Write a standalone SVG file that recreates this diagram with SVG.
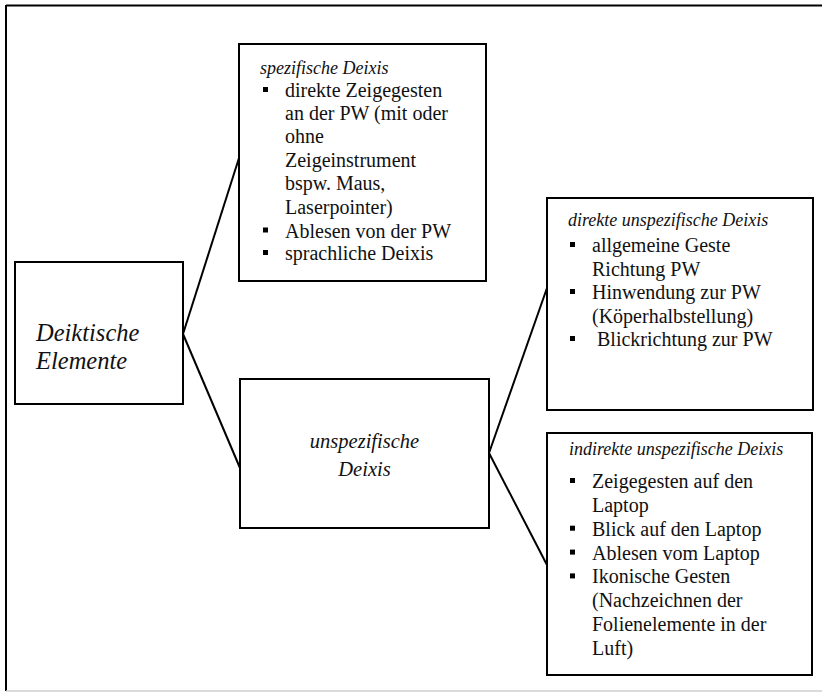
<svg xmlns="http://www.w3.org/2000/svg" width="822" height="692" viewBox="0 0 822 692">
<style>
.box{fill:#fff;stroke:#000;stroke-width:2}
.con{stroke:#000;stroke-width:2;fill:none}
.frame{stroke:#000;stroke-width:2;fill:none}
.t{font-family:"Liberation Serif","Times New Roman",serif;font-size:20px;fill:#111}
.h{font-family:"Liberation Serif","Times New Roman",serif;font-size:18px;font-style:italic;fill:#111}
.big{font-family:"Liberation Serif","Times New Roman",serif;font-style:italic;fill:#111}
.b{fill:#000}
</style>
<rect width="822" height="692" fill="#fff"/>
<g id="frame">
<line class="frame" x1="6" y1="5.5" x2="822" y2="5.5"/>
<line class="frame" x1="6" y1="5" x2="6" y2="691"/>
<line x1="6" y1="691" x2="822" y2="691" stroke="#cfcfcf" stroke-width="1.5"/>
</g>
<g id="connectors">
<line class="con" x1="183" y1="334" x2="239" y2="158"/>
<line class="con" x1="183" y1="334" x2="240" y2="468"/>
<line class="con" x1="489" y1="453" x2="547" y2="288"/>
<line class="con" x1="489" y1="453" x2="547" y2="565"/>
</g>
<g id="deiktische">
<rect class="box" x="15" y="262" width="168" height="142"/>
<text class="big" font-size="24.5" x="36" y="341">Deiktische</text>
<text class="big" font-size="24.5" x="36" y="368.5">Elemente</text>
</g>
<g id="spezifisch">
<rect class="box" x="239" y="44" width="247" height="237"/>
<text class="h" x="260" y="73.5">spezifische Deixis</text>
<rect class="b" x="263" y="87" width="5" height="5"/>
<text class="t" x="285" y="97">direkte Zeigegesten</text>
<text class="t" x="285" y="120.3">an der PW (mit oder</text>
<text class="t" x="285" y="143.3">ohne</text>
<text class="t" x="285" y="166.8">Zeigeinstrument</text>
<text class="t" x="285" y="190.2">bspw. Maus,</text>
<text class="t" x="285" y="213.8">Laserpointer)</text>
<rect class="b" x="263" y="227.5" width="5" height="5"/>
<text class="t" x="285" y="237.5">Ablesen von der PW</text>
<rect class="b" x="263" y="250" width="5" height="5"/>
<text class="t" x="285" y="260">sprachliche Deixis</text>
</g>
<g id="unspezifisch">
<rect class="box" x="240" y="379" width="249" height="149"/>
<text class="big" font-size="20.5" x="364.5" y="448" text-anchor="middle">unspezifische</text>
<text class="big" font-size="20.5" x="364.5" y="476" text-anchor="middle">Deixis</text>
</g>
<g id="direkt">
<rect class="box" x="547" y="198" width="266" height="212"/>
<text class="h" x="568" y="226">direkte unspezifische Deixis</text>
<rect class="b" x="570" y="242" width="5" height="5"/>
<text class="t" x="592" y="252">allgemeine Geste</text>
<text class="t" x="592" y="275.5">Richtung PW</text>
<rect class="b" x="570" y="289" width="5" height="5"/>
<text class="t" x="592" y="299">Hinwendung zur PW</text>
<text class="t" x="592" y="322.5">(Köperhalbstellung)</text>
<rect class="b" x="570" y="336" width="5" height="5"/>
<text class="t" x="597" y="346">Blickrichtung zur PW</text>
</g>
<g id="indirekt">
<rect class="box" x="547" y="433" width="265" height="242"/>
<text class="h" x="569" y="455">indirekte unspezifische Deixis</text>
<rect class="b" x="570" y="478" width="5" height="5"/>
<text class="t" x="592" y="488">Zeigegesten auf den</text>
<text class="t" x="592" y="511.9">Laptop</text>
<rect class="b" x="570" y="525.7" width="5" height="5"/>
<text class="t" x="592" y="535.7">Blick auf den Laptop</text>
<rect class="b" x="570" y="549.6" width="5" height="5"/>
<text class="t" x="592" y="559.6">Ablesen vom Laptop</text>
<rect class="b" x="570" y="573.4" width="5" height="5"/>
<text class="t" x="592" y="583.4">Ikonische Gesten</text>
<text class="t" x="592" y="607.3">(Nachzeichnen der</text>
<text class="t" x="592" y="631.2">Folienelemente in der</text>
<text class="t" x="592" y="655">Luft)</text>
</g>
</svg>
